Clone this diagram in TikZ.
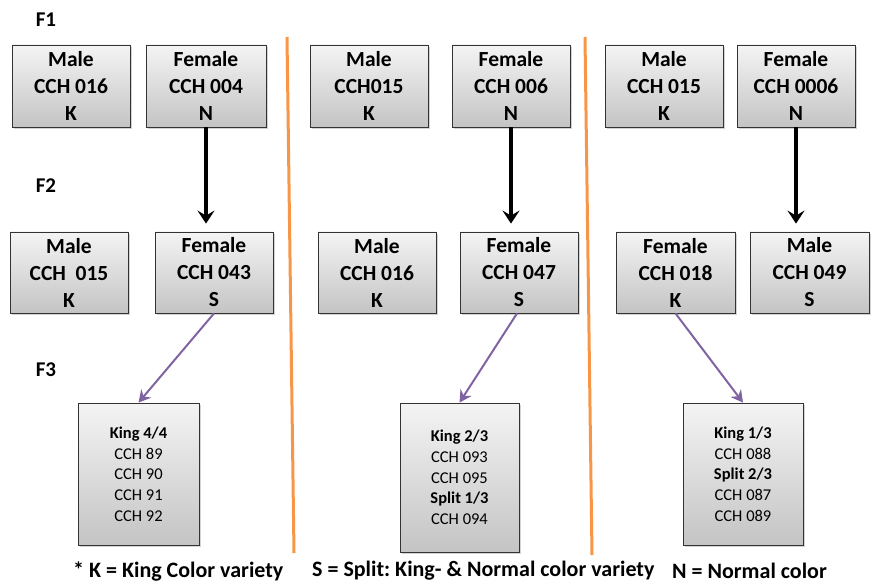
\documentclass[tikz,border=0pt]{standalone}
\usepackage{fontspec}
\setmainfont{Carlito}
\usetikzlibrary{shadows,arrows.meta}
\definecolor{boxtop}{HTML}{F4F4F4}
\definecolor{boxbot}{HTML}{C4C4C4}
\definecolor{orangeline}{HTML}{F79646}
\definecolor{purplearr}{HTML}{8064A2}
\tikzset{
  genbox/.style={draw=black!80, line width=0.8pt, top color=boxtop, bottom color=boxbot,
    minimum width=118pt, minimum height=81pt, inner sep=0pt, align=center,
    font=\bfseries\fontsize{21.5}{27}\selectfont,
    drop shadow={shadow xshift=2pt, shadow yshift=-2pt, opacity=0.35}},
  offbox/.style={draw=black!80, line width=0.8pt, top color=boxtop, bottom color=boxbot,
    minimum width=121pt, inner sep=0pt, align=center,
    font=\fontsize{16.5}{20.7}\selectfont,
    drop shadow={shadow xshift=2pt, shadow yshift=-2pt, opacity=0.35}},
  genlabel/.style={font=\bfseries\fontsize{21}{22}\selectfont},
  legend/.style={font=\bfseries\fontsize{22}{24}\selectfont, anchor=west, inner sep=0pt},
  blackarrow/.style={line width=3.4pt, -{Stealth[length=13pt, width=17pt, inset=5pt]}},
  purplearrow/.style={draw=purplearr, line width=2pt, -{Stealth[length=12pt, width=13pt, inset=4pt]}},
  divider/.style={draw=orangeline, line width=3pt}
}
\begin{document}
\frenchspacing
\begin{tikzpicture}[x=1pt,y=-1pt]
\useasboundingbox (0,0) rectangle (873,585);
% generation labels
\node[genlabel] (f1) at (46,20) {F1};
\node[genlabel] (f2) at (46,186) {F2};
\node[genlabel] (f3) at (46,370) {F3};
% dividers
\coordinate (d1t) at (287,37);
\coordinate (d1b) at (294,553);
\coordinate (d2t) at (585,37);
\coordinate (d2b) at (592,555);
\draw[divider] (d1t) -- (d1b);
\draw[divider] (d2t) -- (d2b);
% F1
\node[genbox, minimum height=82pt] (b1) at (71,86) {Male\\CCH 016\\K};
\node[genbox, minimum height=82pt, minimum width=120pt] (b2) at (206,86) {Female\\CCH 004\\N};
\node[genbox, minimum height=82pt] (b3) at (369,86) {Male\\CCH015\\K};
\node[genbox, minimum height=82pt] (b4) at (511,86) {Female\\CCH 006\\N};
\node[genbox, minimum height=82pt] (b5) at (664,86) {Male\\CCH 015\\K};
\node[genbox, minimum height=82pt] (b6) at (796,86) {Female\\CCH 0006\\N};
% F2
\node[genbox] (b7) at (69,272.5) {Male\\CCH~~015\\K};
\node[genbox] (b8) at (214,272.5) {Female\\CCH 043\\S};
\node[genbox] (b9) at (377,272.5) {Male\\CCH 016\\K};
\node[genbox] (b10) at (519,272.5) {Female\\CCH 047\\S};
\node[genbox, minimum width=119pt] (b11) at (675.5,272.5) {Female\\CCH 018\\K};
\node[genbox, minimum width=119pt] (b12) at (809.5,272.5) {Male\\CCH 049\\S};
% F3
\node[offbox, minimum height=142pt] (b13) at (138.5,474) {\textbf{King 4/4}\\CCH 89\\CCH 90\\CCH 91\\CCH 92};
\node[offbox, minimum height=149pt, minimum width=119pt, text depth=-8pt] (b14) at (459.5,477.5) {\textbf{King 2/3}\\CCH 093\\CCH 095\\\textbf{Split 1/3}\\CCH 094};
\node[offbox, minimum height=142pt, minimum width=120pt] (b15) at (743,474) {\textbf{King 1/3}\\CCH 088\\\textbf{Split 2/3}\\CCH 087\\CCH 089};
% black arrows
\draw[blackarrow] (b2.south) -- ([yshift=8pt]b2.south |- b8.north);
\draw[blackarrow] (b4.south) -- ([yshift=8pt]b4.south |- b10.north);
\draw[blackarrow] (b6.south) -- ([yshift=8pt]b6.south |- b12.north);
% purple arrows
\draw[purplearrow] (b8.south) -- (b13.north);
\draw[purplearrow] ([xshift=-2pt]b10.south) -- (b14.north);
\draw[purplearrow] (b11.south) -- (b15.north);
% legend
\node[legend] (l1) at (73,571) {* K = King Color variety};
\node[legend] (l2) at (312,571) {S = Split: King- \& Normal color variety};
\node[legend] (l3) at (672,571) {N = Normal color};
\end{tikzpicture}
\end{document}
